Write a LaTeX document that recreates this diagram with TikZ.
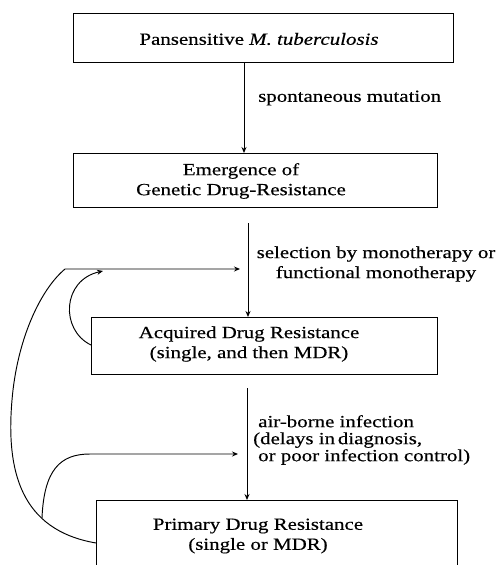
\documentclass[tikz,border=0pt]{standalone}
\usepackage{fontspec}
\setmainfont[FakeStretch=1.23,FakeBold=0.4]{Liberation Serif}
\usetikzlibrary{arrows.meta}
\begin{document}
\begin{tikzpicture}[x=1pt,y=-1pt,
  box/.style={draw, line width=1.1pt, inner sep=0pt, anchor=north west},
  txt/.style={font=\fontsize{17}{20}\selectfont, inner sep=0pt, align=center},
  arr/.style={line width=0.95pt, -{Stealth[length=6pt,width=5pt]}}]
\useasboundingbox (0,0) rectangle (501,565);
\clip (0,0) rectangle (501,565);
% boxes
\node[box, minimum width=380pt, minimum height=49pt] (b1) at (73,13) {};
\node[box, minimum width=364pt, minimum height=54pt] (b2) at (73,153) {};
\node[box, minimum width=346pt, minimum height=57pt] (b3) at (91,317) {};
\node[box, minimum width=361pt, minimum height=90pt] (b4) at (96,500) {};
% box texts
\node[txt] (t1) at (259,39) {Pansensitive \textit{M. tuberculosis}};
\node[txt] (t2) at (241,181) {Emergence of\\Genetic Drug-Resistance};
\node[txt] (t3) at (249,344) {Acquired Drug Resistance\\(single, and then MDR)};
\node[txt] (t4) at (258,536) {Primary Drug Resistance\\(single or MDR)};
% labels
\node[txt, anchor=west] (l1) at (258,98) {spontaneous mutation};
\node[txt] (l2) at (376,264) {selection by monotherapy or\\functional monotherapy};
\node[txt, anchor=west, align=left, font=\fontsize{17}{17}\selectfont] (l3) at (253,440) {\hspace*{5pt}air-borne infection\\(delays in\,diagnosis,\\\hspace*{5pt}or poor infection control)};
% main arrows
\coordinate (x1) at (244,0);
\coordinate (s2) at (248,223);
\coordinate (s3) at (247,388);
\draw[arr] (b1.south -| x1) -- (b2.north -| x1);
\draw[arr] (s2) -- (b3.north -| s2);
\draw[arr] (s3) -- (b4.north -| s3);
% feedback
\coordinate (f1) at (240,269);
\coordinate (f2) at (238,454);
\coordinate (j) at (42,518);
\draw[arr] ([yshift=-43pt]b4.north west) .. controls (20,530) and (6,470) .. (12,400)
  .. controls (17,340) and (40,290) .. (65,269) -- (f1);
\draw[arr] (j) .. controls (44,470) and (60,454) .. (90,454) -- (f2);
\draw[arr] ([yshift=-28pt]b3.north west) .. controls (60,330) and (62,280) .. (103,271);
\end{tikzpicture}
\end{document}
